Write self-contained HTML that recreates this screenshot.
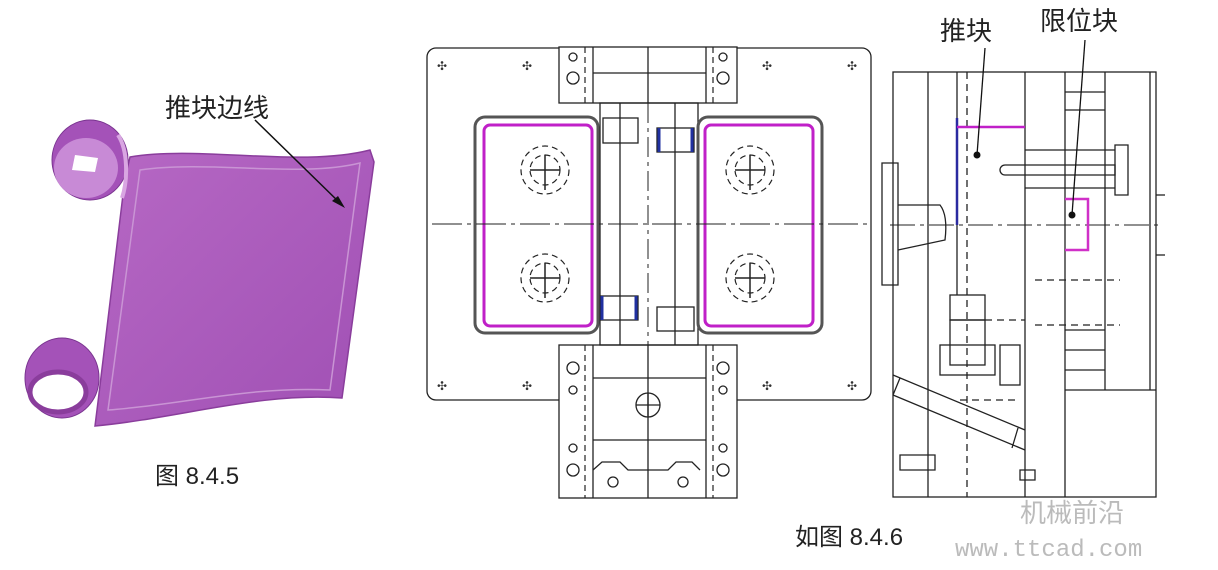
<!DOCTYPE html>
<html><head><meta charset="utf-8"><style>
html,body{margin:0;padding:0;background:#fff;}
svg{display:block}
text{font-family:"Liberation Sans","Noto Sans CJK SC",sans-serif;}
</style></head><body>
<svg width="1218" height="570" viewBox="0 0 1218 570" xmlns="http://www.w3.org/2000/svg">
<rect width="1218" height="570" fill="#fff"/>
<defs>
<linearGradient id="pg" x1="0" y1="0" x2="1" y2="1"><stop offset="0" stop-color="#b668c4"/><stop offset="1" stop-color="#a050b4"/></linearGradient>
</defs>
<path d="M130,157 C200,145 300,168 370,150 L374,162 L342,398 C260,392 180,418 95,426 L98,402 L125,178 Z" fill="url(#pg)" stroke="#8a3d9c" stroke-width="1.5"/>
<path d="M140,170 C210,160 300,178 360,163 L330,390 C250,386 180,405 108,410 Z" fill="none" stroke="#c994d4" stroke-width="1.5"/>
<ellipse cx="90" cy="160" rx="38" ry="40" fill="#a452b8" stroke="#7a3590"/>
<ellipse cx="86" cy="168" rx="32" ry="30" fill="#c88ad6"/>
<path d="M75,155 L98,158 L95,172 L72,170 Z" fill="#fff"/>
<path d="M118,135 C128,150 128,180 122,198" stroke="#d9a6e2" stroke-width="4" fill="none"/>
<ellipse cx="62" cy="378" rx="37" ry="40" fill="#a452b8" stroke="#7a3590"/>
<ellipse cx="58" cy="392" rx="28" ry="20" fill="#fff" stroke="#8a3d9c" stroke-width="5"/>
<text x="165" y="117" font-size="26" fill="#222">推块边线</text>
<line x1="255" y1="120" x2="342" y2="205" stroke="#111" stroke-width="1.5"/>
<path d="M345,208 L332,201 L338,196 Z" fill="#111"/>
<text x="155" y="484" font-size="24" fill="#222">图 8.4.5</text>

<g stroke="#222" stroke-width="1.3" fill="none">
<rect x="427" y="48" width="444" height="352" rx="9"/>
<rect x="559" y="47" width="178" height="56" fill="#fff"/>
<rect x="559" y="345" width="178" height="153" fill="#fff"/>
<line x1="593" y1="47" x2="593" y2="103"/><line x1="706" y1="47" x2="706" y2="103"/>
<line x1="593" y1="73" x2="706" y2="73"/>
<line x1="593" y1="345" x2="593" y2="498"/><line x1="706" y1="345" x2="706" y2="498"/>
<line x1="593" y1="378" x2="706" y2="378"/><line x1="593" y1="440" x2="706" y2="440"/>
<path d="M593,470 L602,462 L620,462 L628,470 L668,470 L676,462 L692,462 L700,470"/>
<line x1="648" y1="345" x2="648" y2="498"/><line x1="648" y1="47" x2="648" y2="103"/>
<rect x="600" y="103" width="98" height="242"/>
<line x1="620" y1="103" x2="620" y2="345"/><line x1="675" y1="103" x2="675" y2="345"/>
<rect x="603" y="118" width="35" height="25"/><rect x="657" y="128" width="37" height="24"/>
<rect x="600" y="296" width="38" height="24"/><rect x="657" y="307" width="37" height="24"/>
<rect x="475" y="117" width="123" height="216" rx="10" stroke="#555" stroke-width="3"/>
<rect x="698" y="117" width="124" height="216" rx="10" stroke="#555" stroke-width="3"/>
<circle cx="648" cy="405" r="12"/>
<line x1="636" y1="405" x2="660" y2="405"/><line x1="648" y1="393" x2="648" y2="417"/>
</g>
<g stroke="#c020c8" stroke-width="3" fill="none">
<rect x="484" y="125" width="108" height="201" rx="6"/>
<rect x="705" y="125" width="108" height="201" rx="6"/>
</g>
<g stroke="#222" stroke-width="1.2" fill="none" stroke-dasharray="6 4">
<circle cx="545" cy="170" r="24"/><circle cx="545" cy="170" r="15"/>
<circle cx="545" cy="278" r="24"/><circle cx="545" cy="278" r="15"/>
<circle cx="750" cy="170" r="24"/><circle cx="750" cy="170" r="15"/>
<circle cx="750" cy="278" r="24"/><circle cx="750" cy="278" r="15"/>
<line x1="585" y1="47" x2="585" y2="103"/><line x1="713" y1="47" x2="713" y2="103"/>
<line x1="585" y1="345" x2="585" y2="498"/><line x1="713" y1="345" x2="713" y2="498"/>
</g>
<g stroke="#222" stroke-width="1.5">
<line x1="545" y1="155" x2="545" y2="190"/><line x1="530" y1="170" x2="560" y2="170"/>
<line x1="545" y1="263" x2="545" y2="298"/><line x1="530" y1="278" x2="560" y2="278"/>
<line x1="750" y1="155" x2="750" y2="190"/><line x1="735" y1="170" x2="765" y2="170"/>
<line x1="750" y1="263" x2="750" y2="298"/><line x1="735" y1="278" x2="765" y2="278"/>
</g>
<g stroke="#2030a0" stroke-width="3"><line x1="659" y1="128" x2="659" y2="152"/><line x1="692" y1="128" x2="692" y2="152"/><line x1="602" y1="296" x2="602" y2="320"/><line x1="636" y1="296" x2="636" y2="320"/></g>
<line x1="432" y1="224" x2="868" y2="224" stroke="#222" stroke-width="1" stroke-dasharray="30 5 4 5"/>
<line x1="648" y1="103" x2="648" y2="345" stroke="#222" stroke-width="1" stroke-dasharray="20 5 4 5"/>
<g fill="none" stroke="#222" stroke-width="1.3">
<circle cx="573" cy="57" r="4"/><circle cx="723" cy="57" r="4"/>
<circle cx="573" cy="78" r="6"/><circle cx="723" cy="78" r="6"/>
<circle cx="573" cy="368" r="6"/><circle cx="723" cy="368" r="6"/>
<circle cx="573" cy="390" r="4"/><circle cx="723" cy="390" r="4"/>
<circle cx="573" cy="448" r="4"/><circle cx="723" cy="448" r="4"/>
<circle cx="573" cy="470" r="6"/><circle cx="723" cy="470" r="6"/>
<circle cx="613" cy="482" r="5"/><circle cx="683" cy="482" r="5"/>
</g>
<g font-size="12" fill="#333"><text x="437" y="70">✣</text><text x="522" y="70">✣</text><text x="762" y="70">✣</text><text x="847" y="70">✣</text><text x="437" y="390">✣</text><text x="522" y="390">✣</text><text x="762" y="390">✣</text><text x="847" y="390">✣</text></g>

<g stroke="#222" stroke-width="1.3" fill="none">
<rect x="893" y="72" width="263" height="425"/>
<line x1="928" y1="72" x2="928" y2="497"/>
<line x1="957" y1="72" x2="957" y2="295"/>
<line x1="1025" y1="72" x2="1025" y2="497"/>
<line x1="1065" y1="72" x2="1065" y2="497"/>
<line x1="1105" y1="72" x2="1105" y2="390"/>
<line x1="1150" y1="72" x2="1150" y2="390"/>
<line x1="1065" y1="390" x2="1156" y2="390"/>
<line x1="1065" y1="92" x2="1105" y2="92"/><line x1="1065" y1="110" x2="1105" y2="110"/>
<line x1="1065" y1="330" x2="1105" y2="330"/><line x1="1065" y1="350" x2="1105" y2="350"/><line x1="1065" y1="370" x2="1105" y2="370"/>
<line x1="1025" y1="150" x2="1115" y2="150"/><line x1="1025" y1="188" x2="1115" y2="188"/>
<path d="M1115,145 L1128,145 L1128,195 L1115,195 Z"/>
<path d="M1005,165 L1115,165 L1115,175 L1005,175 A5,5 0 0 1 1005,165 Z"/>
<rect x="950" y="295" width="35" height="25"/>
<rect x="950" y="320" width="35" height="45"/>
<rect x="940" y="345" width="55" height="30"/>
<rect x="1000" y="345" width="20" height="40"/>
<path d="M893,375 L1025,430 M893,395 L1025,450 M900,378 L893,395 M1018,428 L1012,448"/>
<path d="M882,163 L898,163 L898,285 L882,285 Z"/>
<path d="M898,205 L940,205 Q948,215 945,240 L898,250"/>
<path d="M900,455 L935,455 L935,470 L900,470 Z"/>
<path d="M1020,470 L1035,470 L1035,480 L1020,480 Z"/>
<line x1="1156" y1="195" x2="1165" y2="195"/><line x1="1156" y1="255" x2="1165" y2="255"/>
</g>
<g stroke="#222" stroke-width="1.3" stroke-dasharray="7 5" fill="none">
<line x1="967" y1="72" x2="967" y2="497"/>
<line x1="1035" y1="280" x2="1120" y2="280"/><line x1="1035" y1="325" x2="1120" y2="325"/>
<line x1="985" y1="320" x2="1025" y2="320"/><line x1="960" y1="400" x2="1020" y2="400"/>
</g>
<line x1="890" y1="225" x2="1160" y2="225" stroke="#222" stroke-width="1" stroke-dasharray="25 5 4 5"/>
<line x1="957" y1="118" x2="957" y2="225" stroke="#2a2aa0" stroke-width="2.5"/>
<line x1="957" y1="127" x2="1025" y2="127" stroke="#c020c8" stroke-width="2.5"/>
<path d="M1065,199 L1088,199 L1088,250 L1065,250" fill="none" stroke="#d030c8" stroke-width="2.5"/>
<circle cx="977" cy="155" r="3.5" fill="#111"/>
<circle cx="1072" cy="215" r="3.5" fill="#111"/>
<line x1="985" y1="48" x2="977" y2="155" stroke="#111" stroke-width="1.3"/>
<line x1="1085" y1="40" x2="1072" y2="215" stroke="#111" stroke-width="1.3"/>
<text x="940" y="40" font-size="26" fill="#222">推块</text>
<text x="1040" y="30" font-size="26" fill="#222">限位块</text>
<text x="795" y="545" font-size="24" fill="#222">如图 8.4.6</text>
<text x="1020" y="522" font-size="26" fill="#bbb">机械前沿</text>
<text x="955" y="556" font-size="24" fill="#bbb" style="font-family:'Liberation Mono',monospace">www.ttcad.com</text>
</svg>
</body></html>
